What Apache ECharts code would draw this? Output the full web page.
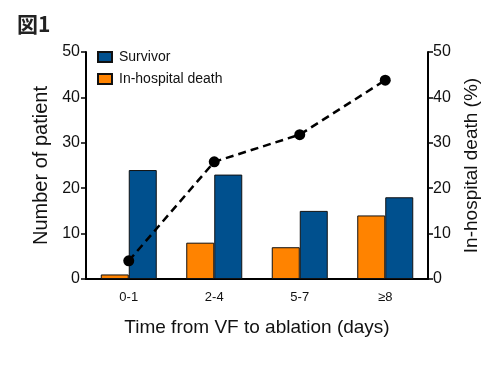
<!DOCTYPE html>
<html><head><meta charset="utf-8">
<script src="https://cdn.jsdelivr.net/npm/echarts@6/dist/echarts.min.js"></script>
<style>html,body{margin:0;padding:0;background:#fff}#c{width:500px;height:373px}</style>
</head><body><div id="c"></div>
<script>
const categories = ['0-1', '2-4', '5-7', '≥8'];
const survivor = [24, 23, 15, 18];
const death = [1, 8, 7, 14];
const deathPct = [4, 25.8, 31.8, 43.8];
const yTicks = [0, 10, 20, 30, 40, 50];

const chart = echarts.init(document.getElementById('c'), null, {renderer: 'canvas'});
const font = 'Liberation Sans, Arial, sans-serif';
chart.setOption({
  animation: false,
  backgroundColor: '#fff',
  title: {text: '図1', left: 12, top: 9, textStyle: {fontFamily: 'Noto Sans CJK JP', fontSize: 21, fontWeight: 'bold', color: '#222'}},
  legend: {
    left: 92, top: 45, orient: 'vertical', itemGap: 8, itemWidth: 14, itemHeight: 10,
    icon: 'rect',
    data: ['Survivor', 'In-hospital death'],
    textStyle: {fontFamily: font, fontSize: 14, color: '#111', padding: [0, 0, 0, 2]}
  },
  grid: {left: 86, right: 72, top: 52, bottom: 94},
  xAxis: {
    type: 'category', data: categories,
    axisLine: {lineStyle: {color: '#000', width: 2}},
    axisTick: {show: false},
    axisLabel: {fontFamily: font, fontSize: 13, color: '#111', margin: 12},
    name: 'Time from VF to ablation (days)', nameLocation: 'middle', nameGap: 39,
    nameTextStyle: {fontFamily: font, fontSize: 19, color: '#111'}
  },
  yAxis: [{
    type: 'value', min: 0, max: 50, interval: 10,
    axisLine: {show: true, lineStyle: {color: '#000', width: 2}},
    axisTick: {show: true, length: 5, lineStyle: {color: '#000', width: 1.5}},
    splitLine: {show: false},
    axisLabel: {fontFamily: font, fontSize: 16, color: '#111', margin: 6},
    name: 'Number of patient', nameLocation: 'middle', nameGap: 33,
    nameTextStyle: {fontFamily: font, fontSize: 20, color: '#111'}
  }, {
    type: 'value', min: 0, max: 50, interval: 10, position: 'right',
    axisLine: {show: true, lineStyle: {color: '#000', width: 2}},
    axisTick: {show: true, length: 5, lineStyle: {color: '#000', width: 1.5}},
    splitLine: {show: false},
    axisLabel: {fontFamily: font, fontSize: 16, color: '#111', margin: 5},
    name: 'In-hospital death (%)', nameLocation: 'middle', nameGap: 34, nameRotate: 90,
    nameTextStyle: {fontFamily: font, fontSize: 19, color: '#111'}
  }],
  series: [{
    name: 'In-hospital death', type: 'bar', data: death, barWidth: 28, barGap: '0%',
    itemStyle: {color: '#ff8300', borderColor: '#111', borderWidth: 1}
  }, {
    name: 'Survivor', type: 'bar', data: survivor, barWidth: 28,
    itemStyle: {color: '#00508e', borderColor: '#111', borderWidth: 1}
  }, {
    name: 'pct', type: 'line', yAxisIndex: 1, data: deathPct,
    symbol: 'circle', symbolSize: 11,
    lineStyle: {color: '#000', width: 2.5, type: [8, 5]},
    itemStyle: {color: '#000'}, z: 5
  }]
});
</script></body></html>
